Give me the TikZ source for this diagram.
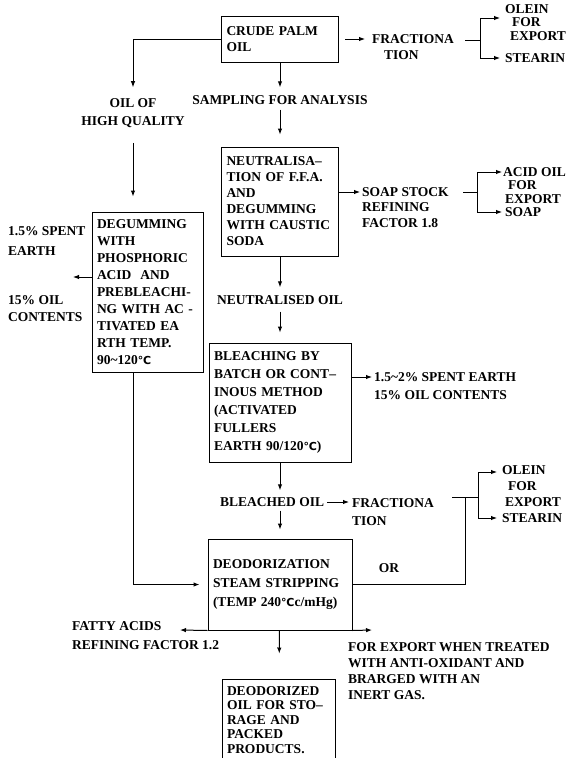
\documentclass[tikz,border=0pt]{standalone}
\usepackage{fontspec}
\setmainfont{Liberation Serif}
\newfontfamily\degfont{DejaVu Sans}
\usetikzlibrary{arrows.meta}

\newcommand{\degC}{{\degfont\fontsize{11}{11}\selectfont ℃}}

\begin{document}
\begin{tikzpicture}[x=1pt,y=-1pt,
  every node/.style={font=\fontsize{13.5}{17}\selectfont\bfseries},
  lead/.style={font=\fontsize{13.5}{#1}\selectfont\bfseries},
  box/.style={draw,line width=1pt,align=left,inner xsep=5pt,inner ysep=2pt},
  txt/.style={align=left,inner sep=0pt},
  flow/.style={-{Latex[length=6pt,width=4.5pt]},line width=1pt},
  wire/.style={line width=1pt}]
  \useasboundingbox (0,0) rectangle (578,758);

  % main column
  \node[box,lead=16,text width=107pt,minimum height=46pt] (crude) at (280,39) {CRUDE PALM\\OIL};
  \node[txt] (sampling) at (280,100) {SAMPLING FOR ANALYSIS};
  \node[box,lead=16,text width=107pt,minimum height=109pt] (neut) at (280,201.5)
    {NEUTRALISA--\\TION OF F.F.A.\\AND\\DEGUMMING\\WITH CAUSTIC\\SODA};
  \node[txt] (neutral) at (280,300) {NEUTRALISED OIL};
  \node[box,lead=18,text width=132pt,minimum height=119pt] (bleach) at (280,402.5)
    {BLEACHING BY\\BATCH OR CONT--\\INOUS METHOD\\(ACTIVATED\\FULLERS\\EARTH 90/120\degC)};
  \node[txt,anchor=west] (bleached) at (220,502) {BLEACHED OIL};
  \node[box,lead=19,text width=134pt,minimum height=91pt] (deo) at (280,584.5)
    {DEODORIZATION\\STEAM STRIPPING\\(TEMP 240\degC{}c/mHg)};
  \node[box,lead=14.5,text width=103pt,minimum height=82pt] (deod) at (278.5,720)
    {DEODORIZED\\OIL FOR STO--\\RAGE AND\\PACKED\\PRODUCTS.};

  % left branch
  \node[txt,lead=18,align=center] (ohq) at (133,113) {OIL OF\\HIGH QUALITY};
  \node[box,lead=17,text width=101pt,minimum height=160pt] (degum) at (147.5,292)
    {DEGUMMING\\WITH\\PHOSPHORIC\\ACID\ \ AND\\PREBLEACHI-\\NG WITH AC -\\TIVATED EA\\RTH TEMP.\\90\textasciitilde120\degC};
  \node[txt,lead=20,anchor=north west] (spent1) at (8,226) {1.5\% SPENT\\EARTH};
  \node[txt,lead=17,anchor=north west] (oil1) at (8,295) {15\% OIL\\CONTENTS};

  % right side texts
  \node[txt,lead=16,anchor=north west] (frac1) at (372,34) {FRACTIONA\\\hspace*{12pt}TION};
  \node[txt,lead=13.5,anchor=north west] (olein1) at (505,4) {OLEIN\\\hspace*{7pt}FOR\\\hspace*{5pt}EXPORT};
  \node[txt,anchor=west] (stearin1) at (505,58) {STEARIN};
  \node[txt,lead=15.5,anchor=north west] (soap) at (362,187) {SOAP STOCK\\REFINING\\FACTOR 1.8};
  \node[txt,lead=13.5,anchor=north west] (acid) at (503,167) {ACID OIL\\\hspace*{5pt}FOR\\\hspace*{2pt}EXPORT};
  \node[txt,anchor=west] (soapP) at (505,212) {SOAP};
  \node[txt,lead=18,anchor=north west] (spent2) at (374,372)
    {1.5\textasciitilde2\% SPENT EARTH\\15\% OIL CONTENTS};
  \node[txt,lead=18,anchor=north west] (frac2) at (352,498) {FRACTIONA\\TION};
  \node[txt,lead=16,anchor=north west] (olein2) at (502,465) {OLEIN\\\hspace*{6pt}FOR\\\hspace*{3pt}EXPORT};
  \node[txt,anchor=west] (stearin2) at (502,518) {STEARIN};
  \node[txt] (or) at (389,568) {OR};
  \node[txt,lead=19,anchor=north west] (fatty) at (72,621) {FATTY ACIDS\\REFINING FACTOR 1.2};
  \node[txt,lead=16,anchor=north west] (export) at (348,642)
    {FOR EXPORT WHEN TREATED\\WITH ANTI-OXIDANT AND\\BRARGED WITH AN\\INERT GAS.};

  % junctions and free ends
  \coordinate (fArr) at (345,39);
  \coordinate (fJoin) at (465,40);
  \coordinate (fBr) at (480,40);
  \coordinate (fTop) at (500,18);
  \coordinate (fBot) at (500,58);
  \coordinate (spentL) at (73,277);
  \coordinate (sArr) at (360,192);
  \coordinate (sJoin) at (463,192);
  \coordinate (sBr) at (477,192);
  \coordinate (sTop) at (502,172);
  \coordinate (sBot) at (502,212);
  \coordinate (bArr) at (372,377);
  \coordinate (oJoin) at (452,497);
  \coordinate (oMid) at (465,497);
  \coordinate (oBr) at (478,497);
  \coordinate (oTop) at (497,472);
  \coordinate (oBot) at (497,518);
  \coordinate (faTip) at (180,630);
  \coordinate (exTip) at (372,630);

  % main flow
  \draw[flow,shorten >=8pt] (crude) -- (sampling);
  \draw[flow,shorten <=5pt,shorten >=12pt] (sampling) -- (neut);
  \draw[flow,shorten >=8pt] (neut) -- (neutral);
  \draw[flow,shorten <=7pt,shorten >=10pt] (neutral) -- (bleach);
  \draw[flow,shorten >=7pt] (bleach.south) -- (bleach.south |- bleached.north);
  \draw[flow,shorten <=4pt,shorten >=9pt] (bleach.south |- bleached.south) -- (deo.north);
  \draw[flow,shorten >=25pt] (deo) -- (deod);
  \draw[flow] (deo.south west) -- (faTip);
  \draw[flow] (deo.south east) -- (exTip);

  % left branch
  \draw[flow,shorten >=11pt] (crude.west) -| (ohq.north);
  \draw[flow,shorten <=15pt,shorten >=15pt] (ohq.south) -- (ohq.south |- degum.north);
  \draw[flow] (degum.west |- spentL) -- (spentL);
  \draw[flow,shorten >=8pt] (ohq.south |- degum.south) |- (deo.west);

  % fractionation of crude oil
  \draw[flow,shorten >=7pt] (fArr) -- (fArr -| frac1.west);
  \draw[wire] (fJoin) -- (fBr);
  \draw[flow] (fBr) |- (fTop);
  \draw[flow] (fBr) |- (fBot);

  % soap stock
  \draw[flow] (neut.east |- sArr) -- (sArr);
  \draw[wire] (sJoin) -- (sBr);
  \draw[flow] (sBr) |- (sTop);
  \draw[flow] (sBr) |- (sBot);

  % spent earth
  \draw[flow] (bleach.east |- bArr) -- (bArr);

  % fractionation of bleached oil
  \draw[flow,shorten <=3pt,shorten >=3pt] (bleached.east) -- (bleached.east -| frac2.west);
  \draw[wire] (deo.east) -| (oMid);
  \draw[wire] (oJoin) -- (oBr);
  \draw[flow] (oBr) |- (oTop);
  \draw[flow] (oBr) |- (oBot);
\end{tikzpicture}
\end{document}
